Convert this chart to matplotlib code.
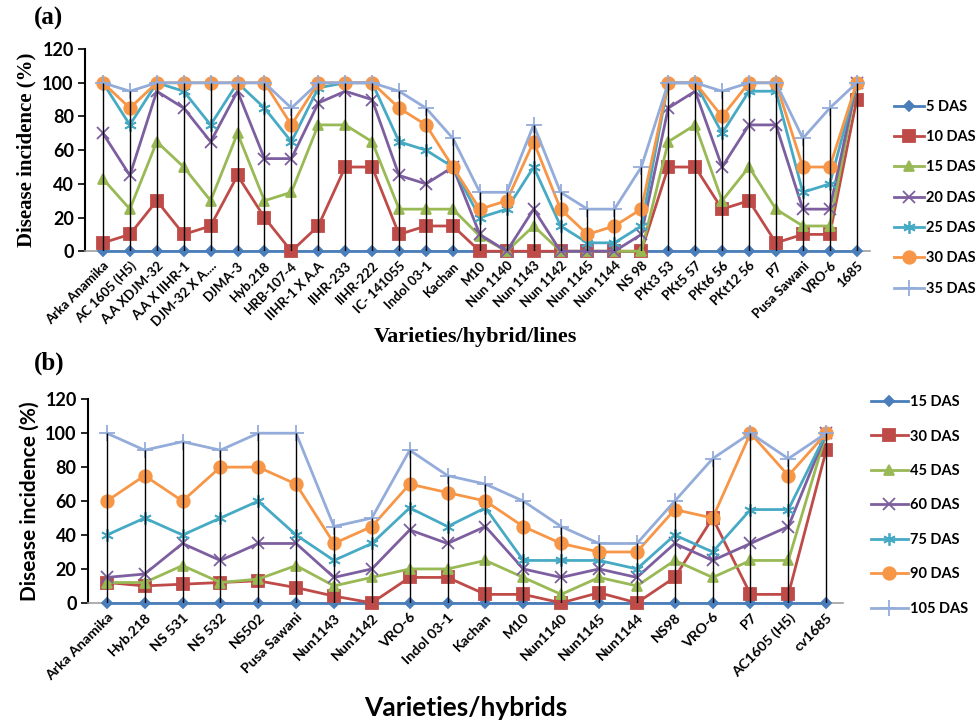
import numpy as np
import matplotlib
matplotlib.use("Agg")
import matplotlib.pyplot as plt

# ---- panel (a) data ----
cats_a = ["Arka Anamika", "AC 1605 (H5)", "A.A XDJM-32", "A.A X IIHR-1", "DJM-32 X A....",
          "DJMA-3", "Hyb.218", "HRB-107-4", "IIHR-1 X A.A", "IIHR-233", "IIHR-222",
          "IC- 141055", "Indol 03-1", "Kachan", "M10", "Nun 1140", "Nun 1143", "Nun 1142",
          "Nun 1145", "Nun 1144", "NS 98", "PKt3 53", "PKt5 57", "PKt6 56", "PKt12 56",
          "P7", "Pusa Sawani", "VRO-6", "1685"]
labels_a = ["5 DAS", "10 DAS", "15 DAS", "20 DAS", "25 DAS", "30 DAS", "35 DAS"]
das5 = [0] * 29
das10 = [5, 10, 30, 10, 15, 45, 20, 0, 15, 50, 50, 10, 15, 15, 0, 0, 0, 0, 0, 0,
         0, 50, 50, 25, 30, 5, 10, 10, 90]
das15 = [43, 25, 65, 50, 30, 70, 30, 35, 75, 75, 65, 25, 25, 25, 9, 0, 15, 0, 0, 0,
         0, 65, 75, 30, 50, 25, 15, 15, 100]
das20 = [70, 45, 95, 85, 65, 95, 55, 55, 88, 95, 90, 45, 40, 50, 10, 0, 25, 0, 0, 0,
         10, 85, 95, 50, 75, 75, 25, 25, 100]
das25 = [100, 75, 100, 95, 75, 100, 85, 65, 97, 100, 100, 65, 60, 50, 20, 25, 50, 15, 5, 5,
         15, 100, 100, 70, 95, 95, 35, 40, 100]
das30 = [100, 85, 100, 100, 100, 100, 100, 75, 100, 100, 100, 85, 75, 50, 25, 30, 65, 25, 10, 15,
         25, 100, 100, 80, 100, 100, 50, 50, 100]
das35 = [100, 95, 100, 100, 100, 100, 100, 85, 100, 100, 100, 95, 85, 67, 35, 35, 75, 35, 25, 25,
         50, 100, 100, 95, 100, 100, 67, 85, 100]
series_a = [das5, das10, das15, das20, das25, das30, das35]

# ---- panel (b) data ----
cats_b = ["Arka Anamika", "Hyb.218", "NS 531", "NS 532", "NS502", "Pusa Sawani", "Nun1143",
          "Nun1142", "VRO-6", "Indol 03-1", "Kachan", "M10", "Nun1140", "Nun1145", "Nun1144",
          "NS98", "VRO-6", "P7", "AC1605 (H5)", "cv1685"]
labels_b = ["15 DAS", "30 DAS", "45 DAS", "60 DAS", "75 DAS", "90 DAS", "105 DAS"]
d15 = [0] * 20
d30 = [12, 10, 11, 12, 13, 9, 4, 0, 15, 15, 5, 5, 0, 6, 0, 15, 50, 5, 5, 90]
d45 = [12, 12, 22, 12, 14, 22, 10, 15, 20, 20, 25, 15, 5, 15, 10, 25, 15, 25, 25, 100]
d60 = [15, 17, 35, 25, 35, 35, 15, 20, 43, 35, 45, 20, 15, 20, 15, 35, 25, 35, 45, 100]
d75 = [40, 50, 40, 50, 60, 40, 25, 35, 56, 45, 56, 25, 25, 25, 20, 40, 30, 55, 55, 100]
d90 = [60, 75, 60, 80, 80, 70, 35, 45, 70, 65, 60, 45, 35, 30, 30, 55, 50, 100, 75, 100]
d105 = [100, 90, 95, 90, 100, 100, 45, 50, 90, 75, 70, 60, 45, 35, 35, 60, 85, 100, 85, 100]
series_b = [d15, d30, d45, d60, d75, d90, d105]

colors = ["#4A7EBB", "#BE4B48", "#98B954", "#7D5FA0", "#46AAC5", "#F79646", "#94ACDA"]
markers = ["D", "s", "^", "x", (6, 2, 0), "o", "+"]
msizes = [5, 8, 7, 9, 9, 9, 11]

sans = ["Lato", "DejaVu Sans"]
serif = ["Liberation Serif", "DejaVu Serif"]

fig = plt.figure(figsize=(9.76, 7.22), dpi=100)


def draw(ax, cats, series, labels, xlim, rot_fs, legend_anchor, lspace, hlen):
    x = np.arange(len(cats))
    arr = np.array(series)
    for s, lab, c, m, ms in zip(series, labels, colors, markers, msizes):
        ax.plot(x, s, color=c, lw=2.0, marker=m, markersize=ms, markeredgewidth=1.3,
                label=lab, zorder=3, clip_on=False)
    # high-low lines
    ax.vlines(x, arr.min(axis=0), arr.max(axis=0), color="black", lw=1.0, zorder=4)
    ax.set_xlim(*xlim)
    ax.set_ylim(0, 120)
    ax.set_yticks(range(0, 121, 20))
    ax.set_xticks(x)
    ax.set_xticklabels(cats, rotation=45, ha="right", rotation_mode="anchor",
                       fontsize=rot_fs, fontweight="bold", family=sans)
    for t in ax.get_yticklabels():
        t.set_family(sans)
        t.set_fontweight("bold")
        t.set_fontsize(13)
    ax.tick_params(axis="x", length=0, pad=6)
    ax.tick_params(axis="y", length=5, width=1.2, direction="out", pad=3)
    for side in ["top", "right"]:
        ax.spines[side].set_visible(False)
    ax.spines["left"].set_linewidth(1.5)
    ax.spines["bottom"].set_color("#A0A0A0")
    ax.spines["bottom"].set_linewidth(1.2)
    ax.legend(loc="center left", bbox_to_anchor=legend_anchor, bbox_transform=fig.transFigure,
              frameon=False, borderpad=0, labelspacing=lspace, handlelength=hlen,
              handletextpad=0.15, prop={"family": sans, "weight": "bold", "size": 10.5})


ax_a = fig.add_axes([0.087, 0.652, 0.804, 0.28])
draw(ax_a, cats_a, series_a, labels_a, (-0.67, 28.48), 9.5, (0.909, 0.726), 1.12, 2.0)
ax_a.set_ylabel("Disease incidence (%)", family=serif, fontweight="bold", fontsize=15, labelpad=4)
fig.text(0.487, 0.533, "Varieties/hybrid/lines", family=serif, fontweight="bold",
         fontsize=16, ha="center", va="center")
fig.text(0.035, 0.975, "(a)", family=serif, fontweight="bold", fontsize=18, va="center")

ax_b = fig.add_axes([0.090, 0.165, 0.774, 0.282])
draw(ax_b, cats_b, series_b, labels_b, (-0.50, 19.45), 10.3, (0.885, 0.30), 1.4, 2.5)
ax_b.set_ylabel("Disease incidence (%)", family=sans, fontweight="bold", fontsize=15, labelpad=4)
fig.text(0.477, 0.02, "Varieties/hybrids", family=sans, fontweight="bold",
         fontsize=19, ha="center", va="center")
fig.text(0.035, 0.497, "(b)", family=serif, fontweight="bold", fontsize=18, va="center")

fig.savefig("out.png", dpi=100)
